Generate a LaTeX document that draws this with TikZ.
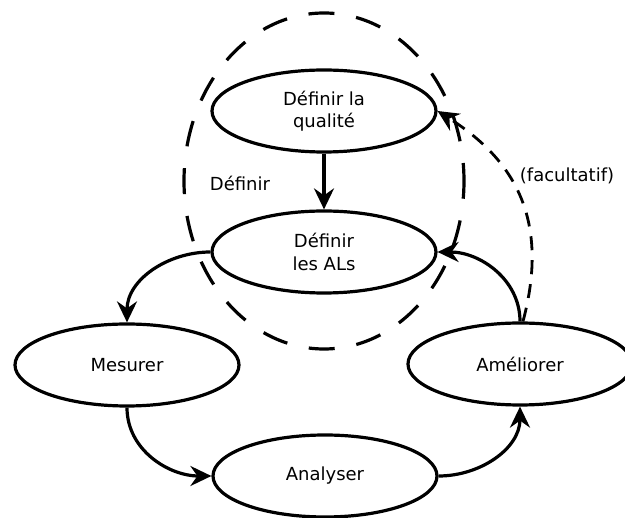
\documentclass[tikz,border=0pt]{standalone}
\usepackage{fontspec}
\setmainfont{DejaVu Sans}
\usetikzlibrary{shapes.geometric,arrows.meta}
\tikzset{
  stepnode/.style={ellipse, draw, line width=3.2pt, minimum width=224pt, minimum height=82pt,
    inner sep=0pt, align=center, font=\fontsize{18}{22.5}\selectfont},
  arr/.style={line width=3.2pt, -{Stealth[length=21pt,width=20pt,inset=7pt]}},
  lbl/.style={font=\fontsize{18}{22.5}\selectfont, inner sep=0pt}
}
\begin{document}
\begin{tikzpicture}[x=1pt,y=1pt]
\useasboundingbox (0,0) rectangle (625,-518);
% dashed circle
\draw[line width=3.2pt, dash pattern=on 26pt off 22pt, dash phase=8pt] (324,-181) ellipse [x radius=140, y radius=168];
\node[stepnode] (q) at (324,-111) {Définir la\\qualité};
\node[stepnode] (a) at (324,-252) {Définir\\les ALs};
\node[stepnode] (m) at (127,-365) {Mesurer};
\node[stepnode] (am) at (520,-364) {Améliorer};
\node[stepnode] (an) at (325,-476) {Analyser};
\node[lbl] (d) at (240,-183) {Définir};
\node[lbl] (f) at (567,-176) {(facultatif)};
\draw[arr] (q.south) -- (a.north);
\draw[arr] (a.west) to[out=180,in=90] (m.north);
\draw[arr] (m.south) to[out=-90,in=180] (an.west);
\draw[arr] (an.east) to[out=0,in=-90] (am.south);
\draw[arr] (am.north) to[out=90,in=0] (a.east);
\draw[arr, line width=2.8pt, dash pattern=on 14pt off 10pt] ([xshift=3pt]am.north) .. controls (550,-220) and (515,-160) .. (q.east);
\end{tikzpicture}
\end{document}
